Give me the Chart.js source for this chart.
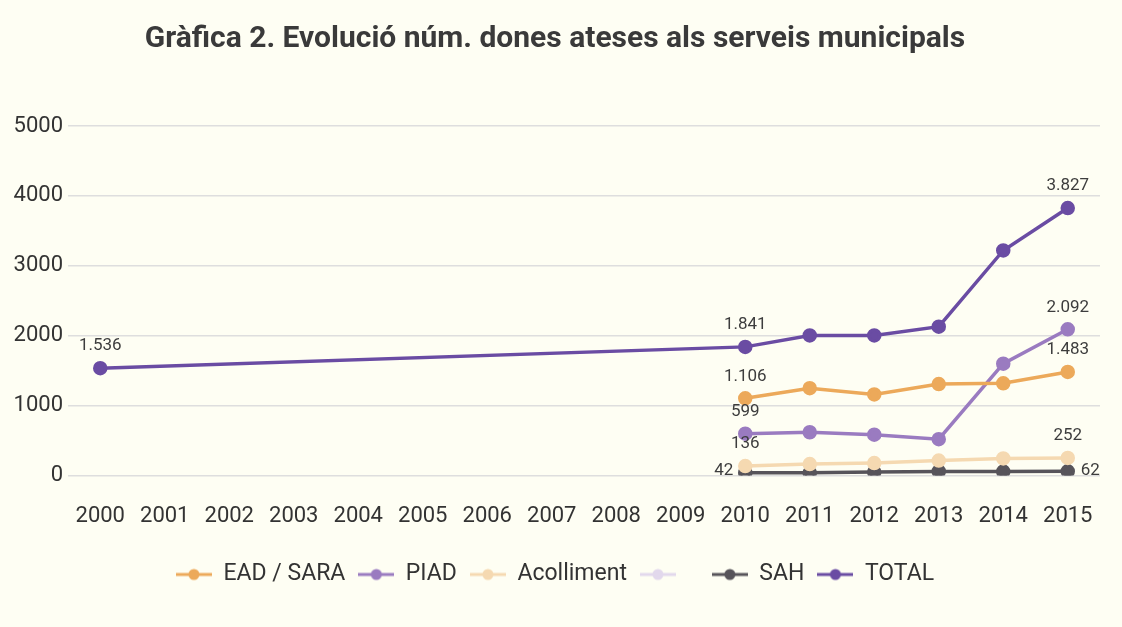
<!DOCTYPE html>
<html>
<head>
<meta charset="utf-8">
<script src="https://cdn.jsdelivr.net/npm/chart.js@4.4.0/dist/chart.umd.min.js"></script>
<style>
html, body { margin: 0; padding: 0; background: #fefef3; }
#wrap { width: 1122px; height: 627px; }
</style>
</head>
<body>
<div id="wrap"><canvas id="lineChart"></canvas></div>
<script>
var years = ['2000', '2001', '2002', '2003', '2004', '2005', '2006', '2007',
    '2008', '2009', '2010', '2011', '2012', '2013', '2014', '2015'];

var eadSara    = [null, null, null, null, null, null, null, null, null, null, 1106, 1250, 1160, 1310, 1320, 1483];
var piad       = [null, null, null, null, null, null, null, null, null, null, 599, 620, 585, 520, 1600, 2092];
var acolliment = [null, null, null, null, null, null, null, null, null, null, 136, 165, 180, 215, 245, 252];
var blank      = [null, null, null, null, null, null, null, null, null, null, null, null, null, null, null, null];
var sah        = [null, null, null, null, null, null, null, null, null, null, 42, 40, 50, 60, 58, 62];
var total      = [1536, null, null, null, null, null, null, null, null, null, 1841, 2005, 2005, 2130, 3220, 3827];

var yTicks = [0, 1000, 2000, 3000, 4000, 5000];

// which points get a value label: [dataset, point, side]
var labelled = [
    [0, 10, 'top'], [0, 15, 'top'],
    [1, 10, 'top'], [1, 15, 'top'],
    [2, 10, 'top'], [2, 15, 'top'],
    [4, 10, 'left'], [4, 15, 'right'],
    [5, 0, 'top'], [5, 10, 'top'], [5, 15, 'top']
];

var FONT = 'Roboto';

function fmt(n) {
    return String(n).replace(/\B(?=(\d{3})+(?!\d))/g, '.');
}

function legendIcon(color) {
    var c = document.createElement('canvas');
    c.width = 36; c.height = 14;
    var g = c.getContext('2d');
    g.strokeStyle = color;
    g.lineWidth = 3;
    g.beginPath(); g.moveTo(0, 7); g.lineTo(36, 7); g.stroke();
    g.fillStyle = color;
    g.beginPath(); g.arc(18, 7, 5.5, 0, Math.PI * 2); g.fill();
    return c;
}

function series(label, data, color) {
    return {
        label: label,
        data: data,
        borderColor: color,
        backgroundColor: color,
        borderWidth: 3.5,
        pointRadius: 5.5,
        pointHoverRadius: 5.5,
        pointStyle: 'circle',
        tension: 0,
        spanGaps: true
    };
}

var valueLabels = {
    id: 'valueLabels',
    afterDatasetsDraw: function (chart) {
        var ctx = chart.ctx;
        ctx.save();
        ctx.font = '17px ' + FONT;
        ctx.fillStyle = '#3d3d3d';
        labelled.forEach(function (l) {
            var meta = chart.getDatasetMeta(l[0]);
            var pt = meta.data[l[1]];
            var v = chart.data.datasets[l[0]].data[l[1]];
            if (!pt || v == null) return;
            var txt = fmt(v);
            ctx.textBaseline = 'middle';
            if (l[2] === 'top') {
                ctx.textAlign = 'center';
                ctx.fillText(txt, pt.x, pt.y - 22);
            } else if (l[2] === 'left') {
                ctx.textAlign = 'right';
                ctx.fillText(txt, pt.x - 12, pt.y - 2);
            } else {
                ctx.textAlign = 'left';
                ctx.fillText(txt, pt.x + 13, pt.y - 1);
            }
        });
        ctx.restore();
    }
};

var bgPlugin = {
    id: 'bg',
    beforeDraw: function (chart) {
        var ctx = chart.ctx;
        ctx.save();
        ctx.fillStyle = '#fefef3';
        ctx.fillRect(0, 0, chart.width, chart.height);
        ctx.restore();
    }
};

var ctx = document.getElementById('lineChart').getContext('2d');
var myChart = new Chart(ctx, {
    type: 'line',
    data: {
        labels: years,
        datasets: [
            series('EAD / SARA', eadSara, '#eca95a'),
            series('PIAD', piad, '#9a7bc0'),
            series('Acolliment', acolliment, '#f5d9b1'),
            series('  ', blank, '#e2d8ec'),
            series('SAH', sah, '#57545a'),
            series('TOTAL', total, '#6a4ca3')
        ]
    },
    options: {
        responsive: true,
        maintainAspectRatio: false,
        animation: false,
        layout: { padding: { left: 10, right: 22, top: 0, bottom: 31 } },
        plugins: {
            title: {
                display: true,
                text: 'Gràfica 2. Evolució núm. dones ateses als serveis municipals',
                color: '#3a3a3a',
                font: { family: FONT, size: 30, weight: 'bold' },
                padding: { top: 21, bottom: 69 }
            },
            legend: {
                position: 'bottom',
                labels: {
                    usePointStyle: true,
                    pointStyleWidth: 36,
                    color: '#333',
                    font: { family: FONT, size: 23 },
                    padding: 13,
                    generateLabels: function (chart) {
                        var items = Chart.defaults.plugins.legend.labels.generateLabels(chart);
                        items.forEach(function (it) {
                            it.pointStyle = legendIcon(chart.data.datasets[it.datasetIndex].borderColor);
                        });
                        return items;
                    }
                }
            },
            tooltip: { enabled: false }
        },
        scales: {
            x: {
                offset: true,
                grid: { display: false },
                border: { display: false },
                ticks: {
                    color: '#333',
                    font: { family: FONT, size: 22 },
                    padding: 20,
                    maxRotation: 0,
                    autoSkip: false
                }
            },
            y: {
                min: 0,
                max: 5000,
                afterBuildTicks: function (scale) {
                    scale.ticks = yTicks.map(function (v) { return { value: v }; });
                },
                afterFit: function (scale) { scale.width = 58; },
                grid: { color: '#dedede', lineWidth: 1.5, drawTicks: false },
                border: { display: false },
                ticks: {
                    color: '#333',
                    font: { family: FONT, size: 22 },
                    padding: 5,
                    callback: function (v) { return String(v); }
                }
            }
        }
    },
    plugins: [bgPlugin, valueLabels]
});
</script>
</body>
</html>
